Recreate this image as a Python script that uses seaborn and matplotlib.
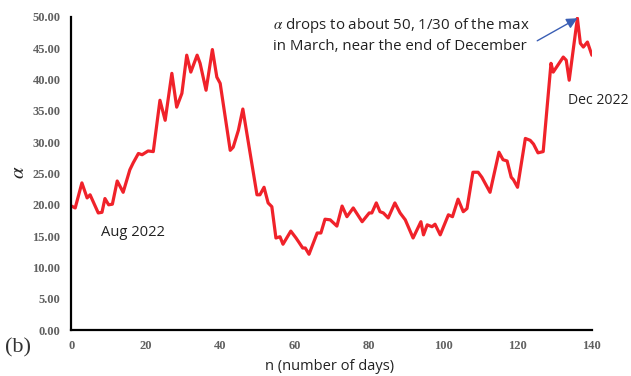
import matplotlib
matplotlib.use("Agg")
import matplotlib.pyplot as plt
import seaborn as sns
import pandas as pd

# Daily alpha series (day index, alpha value)
days = [0, 1, 2.8, 4.2, 5, 7.2, 8.2, 9, 10, 11, 12.3, 13.9, 15.7, 16.6, 18, 19,
        20.6, 22, 23.8, 25.2, 27, 28.3, 29.7, 31, 32.1, 33.8, 34.6, 36.2, 37.9,
        39.1, 40, 42.7, 43.5, 44.9, 46.1, 49.9, 50.7, 51.8, 52.9, 53.9, 55, 56.1,
        56.9, 59, 60.4, 61.2, 62.2, 62.9, 63.9, 66.1, 67.1, 68.2, 69.6, 71.4,
        72.8, 74.1, 75.8, 78.2, 80.1, 80.8, 82, 83, 83.9, 85.2, 87, 88.4, 89.8,
        91.9, 94, 94.7, 95.7, 97, 97.8, 99.2, 101.4, 102.5, 104, 105.4, 106.4,
        108, 109.4, 110.4, 112.6, 115, 116.1, 117.2, 118.3, 118.9, 120, 122.1,
        123.4, 124.3, 125.5, 126.9, 129, 129.6, 132.3, 133.1, 133.9, 136.1,
        136.9, 137.7, 138.8, 140]
alpha = [19.8, 19.5, 23.5, 21.1, 21.6, 18.7, 18.8, 21.0, 20.0, 20.1, 23.8, 22.0,
         25.6, 26.7, 28.2, 28.0, 28.6, 28.5, 36.7, 33.5, 41.0, 35.6, 37.8, 43.9,
         41.2, 43.9, 42.6, 38.3, 44.8, 40.4, 39.4, 28.7, 29.2, 31.9, 35.3, 21.6,
         21.6, 22.8, 20.3, 19.7, 14.7, 14.9, 13.7, 15.8, 14.7, 14.0, 13.1, 13.1,
         12.1, 15.5, 15.5, 17.7, 17.6, 16.6, 19.8, 18.1, 19.5, 17.3, 18.7, 18.7,
         20.3, 18.9, 18.7, 17.9, 20.3, 18.7, 17.6, 14.7, 17.3, 15.2, 16.8, 16.5,
         16.9, 15.2, 18.4, 18.1, 20.9, 18.9, 19.4, 25.2, 25.2, 24.4, 22.0, 28.4,
         27.2, 27.0, 24.4, 24.0, 22.8, 30.6, 30.3, 29.7, 28.3, 28.5, 42.6, 41.2,
         43.6, 43.1, 39.9, 49.8, 45.8, 45.2, 46.0, 43.9]

x_ticks = [0, 20, 40, 60, 80, 100, 120, 140]
y_ticks = [0, 5, 10, 15, 20, 25, 30, 35, 40, 45, 50]

sns.set_style("white")
plt.rcParams["mathtext.fontset"] = "stix"

df = pd.DataFrame({"day": days, "alpha": alpha})

fig = plt.figure(figsize=(6.31, 3.76), dpi=100)
ax = fig.add_axes([0.1133, 0.1223, 0.8247, 0.8325])

sns.lineplot(data=df, x="day", y="alpha", ax=ax, color="#F0222A", lw=2.3,
             sort=False, solid_joinstyle="round", solid_capstyle="round")

ax.set_xlim(0, 140)
ax.set_ylim(0, 50)
ax.set_xticks(x_ticks)
ax.set_yticks(y_ticks)
ax.set_xticklabels([str(v) for v in x_ticks])
ax.set_yticklabels([f"{v:.2f}" for v in y_ticks])

tick_font = dict(family="Liberation Serif", weight="bold", size=9)
for lab in ax.get_xticklabels() + ax.get_yticklabels():
    lab.set_fontproperties(matplotlib.font_manager.FontProperties(**tick_font))
    lab.set_color("#606060")

ax.tick_params(axis="x", direction="inout", length=8, width=1.5, color="black",
               pad=3)
ax.tick_params(axis="y", direction="out", length=4, width=1.5, color="black",
               pad=4)

for side in ("top", "right"):
    ax.spines[side].set_visible(False)
for side in ("left", "bottom"):
    ax.spines[side].set_linewidth(1.6)
    ax.spines[side].set_color("black")

ax.set_xlabel("")
ax.set_ylabel("")

fig.text(0.523, 0.025, "n (number of days)", ha="center", va="center",
         family="Open Sans", fontsize=10.5, color="#222222")
fig.text(0.029, 0.543, r"$\alpha$", rotation=90, ha="center", va="center",
         fontsize=15, color="#222222")
fig.text(0.008, 0.075, "(b)", ha="left", va="center",
         family="Liberation Serif", fontsize=16, color="#333333")

ax.text(7.9, 15.65, "Aug 2022", ha="left", va="center", family="Open Sans",
        fontsize=10.6, color="#222222")
ax.text(133.5, 36.7, "Dec 2022", ha="left", va="center", family="Open Sans",
        fontsize=10.1, color="#222222", clip_on=False)

ax.annotate(r"$\alpha$ drops to about 50, 1/30 of the max" + "\n"
            + "in March, near the end of December",
            xy=(136.1, 49.8), xytext=(54.2, 50.1),
            ha="left", va="top", family="Open Sans", fontsize=10.8,
            color="#222222", linespacing=1.3, annotation_clip=False)
ax.annotate("", xy=(136.1, 49.8), xytext=(125.3, 46.2),
            arrowprops=dict(arrowstyle="-|>", color="#3A5EB4", lw=1.0,
                            mutation_scale=16, shrinkA=0, shrinkB=0))

fig.savefig("out.png", dpi=100)
